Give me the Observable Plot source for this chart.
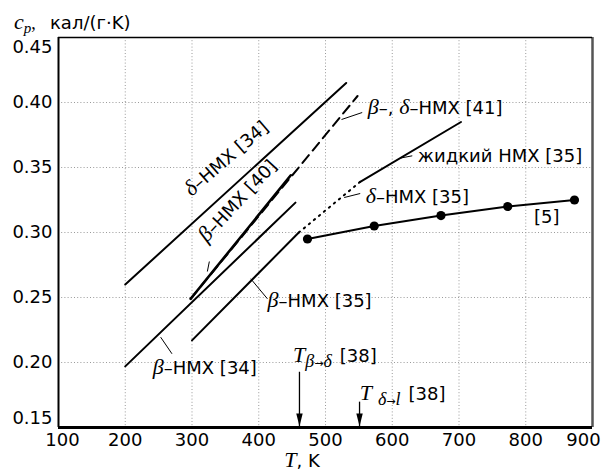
<!DOCTYPE html>
<html><head><meta charset="utf-8">
<script src="https://cdn.jsdelivr.net/npm/d3@7"></script>
<script src="https://cdn.jsdelivr.net/npm/@observablehq/plot@0.6"></script>
<style>
body{margin:0;background:#fff;}
#chart svg{font-family:'DejaVu Sans',sans-serif;background:#fff;}
</style></head><body><div id="chart"></div>
<script>
// ---- data (T in K, cp in кал/(г·K)) ----
const xTicks = [100, 200, 300, 400, 500, 600, 700, 800, 900];
const yTicks = [0.15, 0.20, 0.25, 0.30, 0.35, 0.40, 0.45];
const delta34T = [200, 531], delta34Cp = [0.260, 0.415];
const beta34T = [200, 455], beta34Cp = [0.197, 0.323];
const beta35T = [300, 460], beta35Cp = [0.217, 0.300];
const delta35T = [460, 552], delta35Cp = [0.300, 0.339];
const liquid35T = [552, 703], liquid35Cp = [0.339, 0.385];
const beta40T = [298, 448], beta40Cp = [0.249, 0.344];
const bd41T = [298, 548], bd41Cp = [0.249, 0.405];
const ref5T = [473, 573, 673, 773, 873], ref5Cp = [0.295, 0.305, 0.313, 0.320, 0.325];
const transT = [461, 551], transTopCp = [0.1925, 0.1695];

// annotations (data coordinates)
const labels = [
  {T: 300, cp: 0.327, rot: -41, parts: [["δ", "g"], ["–HMX [34]", "s"]]},
  {T: 323, cp: 0.2915, rot: -47, parts: [["β", "g"], ["–HMX [40]", "s"]]},
  {T: 564, cp: 0.3908, rot: 0, parts: [["β", "g"], ["–, ", "s"], ["δ", "g"], ["–HMX [41]", "s"]]},
  {T: 639, cp: 0.3541, rot: 0, parts: [["жидкий HMX [35]", "s"]]},
  {T: 561, cp: 0.3225, rot: 0, parts: [["δ", "g"], ["–HMX [35]", "s"]]},
  {T: 813, cp: 0.3069, rot: 0, parts: [["[5]", "s"]]},
  {T: 414, cp: 0.2421, rot: 0, parts: [["β", "g"], ["–HMX [35]", "s"]]},
  {T: 242, cp: 0.1908, rot: 0, parts: [["β", "g"], ["–HMX [34]", "s"]]},
  {T: 452, cp: 0.2002, rot: 0, parts: [["T", "g"], ["β", "sub1"], ["→", "subs"], ["δ", "sub"], ["[38]", "s", -5, 8]]},
  {T: 552, cp: 0.1708, rot: 0, parts: [["T", "g"], ["δ", "sub1", 0, 6], ["→", "subs"], ["l", "sub"], ["[38]", "s", -5, 8]]}
];
const leaders = [
  {T1: 323, cp1: 0.270, T2: 326, cp2: 0.2777},
  {T1: 524, cp1: 0.3869, T2: 555, cp2: 0.3923},
  {T1: 613, cp1: 0.3573, T2: 630, cp2: 0.3590},
  {T1: 528, cp1: 0.3269, T2: 552, cp2: 0.3300},
  {T1: 388, cp1: 0.2644, T2: 413, cp2: 0.2490},
  {T1: 253, cp1: 0.2195, T2: 270, cp2: 0.2067}
];

const seg = (T, cp) => T.map((t, i) => ({T: t, cp: cp[i]}));
const downHead = {draw(ctx) { ctx.moveTo(0, 0); ctx.lineTo(-3.2, -13); ctx.lineTo(3.2, -13); ctx.closePath(); }};
const arrows = transT.map((t, i) => ({T: t, top: transTopCp[i]}));
const inner = a => a.slice(1, -1);

const plot = Plot.plot({
  width: 607, height: 473,
  marginLeft: 58, marginRight: 15, marginTop: 37, marginBottom: 46,
  x: {domain: [100, 900]},
  y: {domain: [0.15, 0.45]},
  style: {fontFamily: "'DejaVu Sans', sans-serif", fontSize: "18px", color: "black", background: "white"},
  marks: [
    Plot.gridX(inner(xTicks), {stroke: "#9a9a9a", strokeOpacity: 1, strokeWidth: 1, strokeDasharray: "1,2.2"}),
    Plot.gridY(inner(yTicks), {stroke: "#9a9a9a", strokeOpacity: 1, strokeWidth: 1, strokeDasharray: "1,2.2"}),
    Plot.axisX(inner(xTicks), {tickSize: 0, tickPadding: 6, label: null, fontSize: 18, tickFormat: d => String(d)}),
    Plot.axisX([xTicks[0]], {tickSize: 0, tickPadding: 6, label: null, fontSize: 18, dx: 4, tickFormat: d => String(d)}),
    Plot.axisX([xTicks[xTicks.length - 1]], {tickSize: 0, tickPadding: 6, label: null, fontSize: 18, dx: -9, tickFormat: d => String(d)}),
    Plot.axisY(inner(yTicks), {tickSize: 0, tickPadding: 6, label: null, fontSize: 18, tickFormat: d => d.toFixed(2)}),
    Plot.axisY([yTicks[0]], {tickSize: 0, tickPadding: 6, label: null, fontSize: 18, dy: -9, tickFormat: d => d.toFixed(2)}),
    Plot.axisY([yTicks[yTicks.length - 1]], {tickSize: 0, tickPadding: 6, label: null, fontSize: 18, dy: 10, tickFormat: d => d.toFixed(2)}),
    Plot.line(seg(delta34T, delta34Cp), {x: "T", y: "cp", stroke: "black", strokeWidth: 2}),
    Plot.line(seg(beta34T, beta34Cp), {x: "T", y: "cp", stroke: "black", strokeWidth: 2}),
    Plot.line(seg(beta35T, beta35Cp), {x: "T", y: "cp", stroke: "black", strokeWidth: 2}),
    Plot.line(seg(delta35T, delta35Cp), {x: "T", y: "cp", stroke: "black", strokeWidth: 2, strokeDasharray: "1.5,5"}),
    Plot.line(seg(liquid35T, liquid35Cp), {x: "T", y: "cp", stroke: "black", strokeWidth: 2}),
    Plot.line(seg(beta40T, beta40Cp), {x: "T", y: "cp", stroke: "black", strokeWidth: 2.6}),
    Plot.line(seg(bd41T, bd41Cp), {x: "T", y: "cp", stroke: "black", strokeWidth: 2, strokeDasharray: "10,6"}),
    Plot.line(seg(ref5T, ref5Cp), {x: "T", y: "cp", stroke: "black", strokeWidth: 2}),
    Plot.dot(seg(ref5T, ref5Cp), {x: "T", y: "cp", r: 4.6, fill: "black", stroke: "none"}),
    Plot.link(leaders, {x1: "T1", y1: "cp1", x2: "T2", y2: "cp2", stroke: "black", strokeWidth: 1}),
    Plot.ruleX(arrows, {x: "T", y1: "top", y2: 0.15, stroke: "black", strokeWidth: 1.3}),
    Plot.dot(arrows, {x: "T", y: () => 0.15, symbol: downHead, r: 5, fill: "black", stroke: "none", dy: -1}),
    Plot.ruleX([100], {stroke: "black", strokeWidth: 2}),
    Plot.ruleX([900], {stroke: "#555", strokeWidth: 2.5}),
    Plot.ruleY([0.45], {stroke: "black", strokeWidth: 1.5}),
    Plot.ruleY([0.15], {stroke: "black", strokeWidth: 3})
  ]
});

const svg = d3.select(plot);
const xs = plot.scale("x"), ys = plot.scale("y");
const SERIF = "'Liberation Serif','DejaVu Serif',serif";
const SANS = "'DejaVu Sans',sans-serif";
function rich(g, x, y, rot, parts) {
  const t = g.append("text").attr("transform", `translate(${x},${y}) rotate(${rot})`)
    .attr("fill", "black").attr("text-anchor", "start");
  parts.forEach(([s, kind, dyv, dxv]) => {
    const ts = t.append("tspan").text(s);
    if (kind === "g") ts.attr("font-family", SERIF).attr("font-style", "italic").attr("font-size", 22);
    else if (kind === "s") ts.attr("font-family", SANS).attr("font-size", 18);
    else if (kind === "sub1") ts.attr("font-family", SERIF).attr("font-style", "italic").attr("font-size", 18).attr("dy", 5);
    else if (kind === "sub") ts.attr("font-family", SERIF).attr("font-style", "italic").attr("font-size", 18);
    else if (kind === "subs") ts.attr("font-family", SANS).attr("font-size", 11);
    if (dyv) ts.attr("dy", dyv);
    if (dxv) ts.attr("dx", dxv);
  });
  return t;
}
const g = svg.append("g");
labels.forEach(l => rich(g, xs.apply(l.T), ys.apply(l.cp), l.rot, l.parts));
// axis titles
const yt = g.append("text").attr("x", 14).attr("y", 29).attr("fill", "black").attr("text-anchor", "start");
yt.append("tspan").text("c").attr("font-family", SERIF).attr("font-style", "italic").attr("font-size", 22);
yt.append("tspan").text("p").attr("font-family", SERIF).attr("font-style", "italic").attr("font-size", 15).attr("dy", 4);
yt.append("tspan").text(",").attr("font-family", SERIF).attr("font-size", 18).attr("dy", -4);
yt.append("tspan").text("кал/(г·K)").attr("x", 50).attr("font-family", SANS).attr("font-size", 18);
const xt = g.append("text").attr("x", 302).attr("y", 467).attr("text-anchor", "middle").attr("fill", "black");
xt.append("tspan").text("T").attr("font-family", SERIF).attr("font-style", "italic").attr("font-size", 22);
xt.append("tspan").text(", K").attr("font-family", SANS).attr("font-size", 18);

document.getElementById("chart").appendChild(plot);
</script></body></html>
